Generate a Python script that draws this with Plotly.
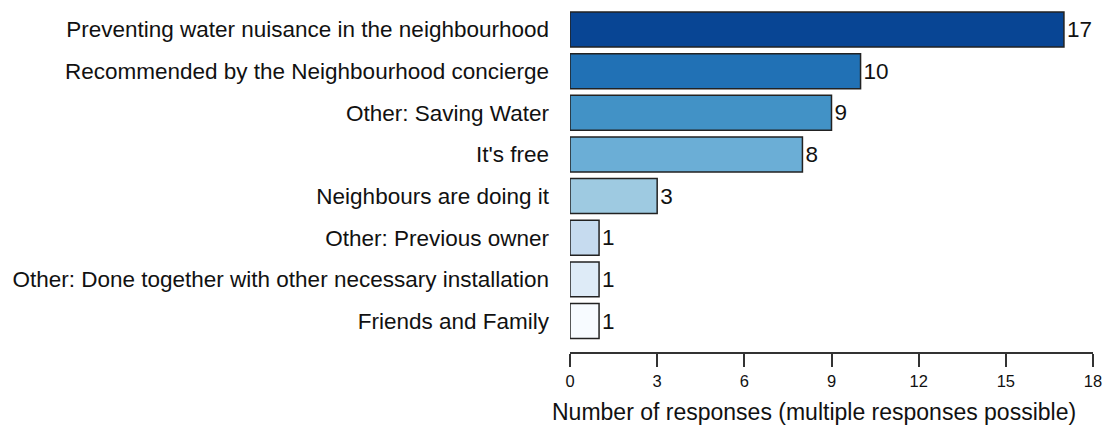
import plotly.graph_objects as go

categories = [
    "Preventing water nuisance in the neighbourhood",
    "Recommended by the Neighbourhood concierge",
    "Other: Saving Water",
    "It's free",
    "Neighbours are doing it",
    "Other: Previous owner",
    "Other: Done together with other necessary installation",
    "Friends and Family",
]
values = [17, 10, 9, 8, 3, 1, 1, 1]
colors = ["#084594", "#2171B5", "#4292C6", "#6BAED6", "#9ECAE1", "#C6DBEF", "#DEEBF7", "#F7FBFF"]
x_ticks = [0, 3, 6, 9, 12, 15, 18]
x_title = "Number of responses (multiple responses possible)"

pos = list(range(len(categories)))

fig = go.Figure(go.Bar(
    x=values, y=pos, orientation="h",
    marker=dict(color=colors, line=dict(color="#222222", width=1.5)),
    width=0.84,
    text=[str(v) for v in values], textposition="outside",
    textfont=dict(family="Liberation Sans, Arial", size=22.5, color="#111111"),
    cliponaxis=False,
))

fig.update_layout(
    width=1104, height=428,
    margin=dict(l=570, r=11, t=8, b=76, autoexpand=False),
    plot_bgcolor="white", paper_bgcolor="white",
    showlegend=False,
    font=dict(family="Liberation Sans, Arial", color="#111111"),
    xaxis=dict(range=[0, 18], tickvals=x_ticks, ticks="outside", ticklen=13,
               tickwidth=1.5, tickcolor="#333333", showline=True, linecolor="#333333",
               linewidth=1.5, showgrid=False, zeroline=False, automargin=False,
               tickfont=dict(size=16.5, color="#111111")),
    yaxis=dict(range=[7.744, -0.516], tickvals=pos, ticktext=categories,
               showgrid=False, zeroline=False, showline=False, ticks="",
               ticklabelstandoff=20, automargin=False,
               tickfont=dict(size=22.5, color="#111111")),
    annotations=[dict(text=x_title, xref="paper", yref="paper",
                      x=0.4665, y=0, yshift=-60, yanchor="middle", showarrow=False,
                      font=dict(size=23, color="#111111"))],
)

fig.write_html("out.html", post_script="document.body.style.margin='0';",
               config={"displayModeBar": False})
